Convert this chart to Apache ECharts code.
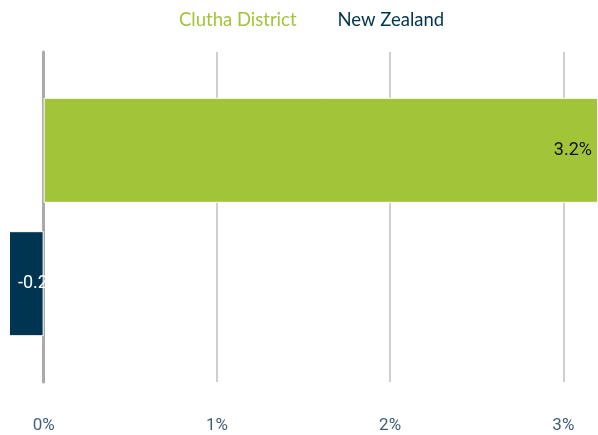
<!DOCTYPE html>
<html>
<head>
<meta charset="utf-8">
<script src="https://cdn.jsdelivr.net/npm/echarts@6/dist/echarts.min.js"></script>
<style>
  html, body { margin: 0; padding: 0; background: #fff; }
  #chart { width: 598px; height: 435px; }
</style>
</head>
<body>
<div id="chart"></div>
<script>
const categories = [''];
const seriesNames = ['Clutha District', 'New Zealand'];
const seriesColors = ['#a2c438', '#003552'];
const clutha = [3.2];
const newZealand = [-0.2];
const tickValues = [0, 1, 2, 3];

const chart = echarts.init(document.getElementById('chart'));

chart.setOption({
  animation: false,
  legend: {
    top: 6,
    left: 168,
    itemGap: 35,
    itemWidth: 0,
    itemHeight: 0,
    icon: 'rect',
    data: seriesNames.map((name, i) => ({
      name,
      textStyle: { color: seriesColors[i] }
    })),
    textStyle: { fontFamily: 'Lato', fontSize: 18.5 }
  },
  grid: { left: 9, right: -6, top: 52, bottom: 53 },
  xAxis: {
    type: 'value',
    min: -0.2,
    max: 3.2,
    axisLine: { show: false },
    axisTick: { show: false, customValues: tickValues },
    axisLabel: {
      customValues: tickValues,
      formatter: v => v + '%',
      color: '#3f5f7a',
      fontFamily: 'Roboto',
      fontSize: 17,
      margin: 35
    },
    splitLine: { show: true, lineStyle: { color: '#cfcfcf', width: 2 } }
  },
  yAxis: {
    type: 'category',
    data: categories,
    inverse: true,
    axisLine: { show: true, onZero: true, lineStyle: { color: '#aaaaaa', width: 3 } },
    axisTick: { show: false },
    axisLabel: { show: false }
  },
  series: [
    {
      name: seriesNames[0],
      type: 'bar',
      data: clutha,
      barWidth: 105,
      barGap: '27%',
      itemStyle: { color: seriesColors[0], borderColor: '#fff', borderWidth: 1 },
      label: {
        show: true,
        position: 'insideRight',
        distance: 6,
        formatter: p => p.value + '%',
        color: '#111',
        fontFamily: 'Roboto',
        fontSize: 18
      }
    },
    {
      name: seriesNames[1],
      type: 'bar',
      data: newZealand,
      barWidth: 105,
      itemStyle: { color: seriesColors[1], borderColor: '#fff', borderWidth: 1 },
      label: {
        show: true,
        position: 'insideLeft',
        distance: 9,
        formatter: p => p.value + '%',
        color: '#fff',
        fontFamily: 'Roboto',
        fontSize: 18,
        width: 38,
        overflow: 'truncate',
        ellipsis: ''
      }
    }
  ]
});
</script>
</body>
</html>
